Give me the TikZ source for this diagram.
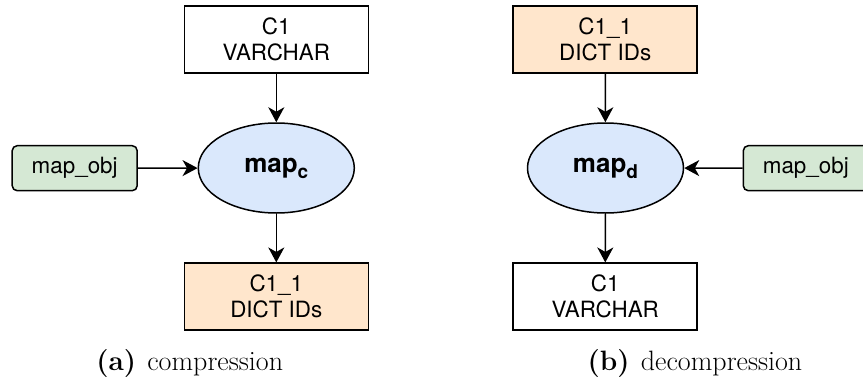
\documentclass[tikz,border=0pt]{standalone}
\usepackage{fontspec}
\usetikzlibrary{shapes.geometric,arrows.meta}
\newfontfamily\hv{TeX Gyre Heros}
\definecolor{gfill}{HTML}{D5E8D4}
\definecolor{ofill}{HTML}{FFE6CC}
\definecolor{bfill}{HTML}{DAE8FC}
\begin{document}
\begin{tikzpicture}[x=1pt,y=-1pt,
  every node/.style={font=\hv\fontsize{22.4}{26}\selectfont, align=center, inner sep=0pt},
  colbox/.style={draw=black, line width=1.5pt, minimum width=184pt, minimum height=67pt},
  objbox/.style={draw=black, fill=gfill, line width=1.5pt, rounded corners=5pt, minimum width=125pt, minimum height=45pt},
  mapell/.style={ellipse, draw=black, fill=bfill, line width=1.5pt, minimum width=156pt, minimum height=90pt, font=\hv\bfseries\fontsize{26}{30}\selectfont},
  conn/.style={line width=1.5pt, -{Stealth[length=15pt,width=16pt,inset=4.5pt]}},
  captext/.style={font=\fontsize{28}{32}\selectfont, anchor=base}
]
\useasboundingbox (0,0) rectangle (863,378);
\clip (0,0) rectangle (863,378);
% left panel
\node[colbox, fill=white] (lt) at (276.3,39.3) {C1\\VARCHAR};
\node[mapell] (lm) at (276.3,168) {map\raisebox{-6pt}{\fontsize{19}{22}\selectfont c}};
\node[objbox] (lo) at (74.7,168.2) {map\_obj};
\node[colbox, fill=ofill] (lb) at (276.3,296.7) {C1\_1\\DICT IDs};
\draw[conn] (lt) -- (lm);
\draw[conn] (lo) -- (lm);
\draw[conn] (lm) -- (lb);
\node[captext] (lc) at (189.7,370) {\textbf{(a)}\hspace{0.4em}compression};
% right panel
\node[colbox, fill=ofill] (rt) at (605.2,39.3) {C1\_1\\DICT IDs};
\node[mapell] (rm) at (605.5,168) {map\raisebox{-6pt}{\fontsize{19}{22}\selectfont d}};
\node[objbox] (ro) at (805.8,168.2) {map\_obj};
\node[colbox, fill=white] (rb) at (605.2,296.7) {C1\\VARCHAR};
\draw[conn] (rt) -- (rm);
\draw[conn] (ro) -- (rm);
\draw[conn] (rm) -- (rb);
\node[captext] (rc) at (695,370) {\textbf{(b)}\hspace{0.4em}decompression};
\end{tikzpicture}
\end{document}
